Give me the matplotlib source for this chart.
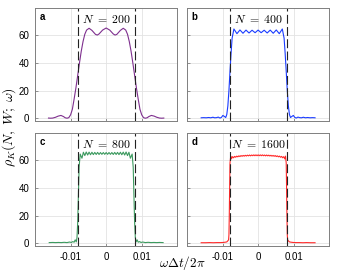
import numpy as np
import matplotlib.pyplot as plt

plt.rcParams['font.family'] = ['Liberation Sans', 'DejaVu Sans']
plt.rcParams['mathtext.fontset'] = 'cm'

# half bandwidth (omega*dt/2pi units)
W = 0.008

# N = 200
om_a = [-0.0162, -0.0156, -0.0150, -0.0142, -0.0135, -0.0127, -0.0120, -0.0115, -0.0110,
        -0.0105, -0.0100, -0.0095, -0.0090, -0.0085, -0.0080, -0.0075, -0.0070, -0.0065,
        -0.0060, -0.0055, -0.0048, -0.0040, -0.0030, -0.0025, -0.0020, -0.0010, 0.0,
        0.0010, 0.0020, 0.0025, 0.0030, 0.0040, 0.0048, 0.0055, 0.0060, 0.0065, 0.0070,
        0.0075, 0.0080, 0.0085, 0.0090, 0.0095, 0.0100, 0.0105, 0.0110, 0.0115, 0.0120,
        0.0127, 0.0135, 0.0142, 0.0150, 0.0156, 0.0162]
rho_a = [0.2, 0.1, 0.2, 0.8, 1.6, 2.1, 1.3, 0.4, 0.1,
         0.5, 2.5, 6.5, 14.0, 22.0, 31.0, 40.0, 48.5, 55.5,
         60.8, 63.8, 65.1, 63.6, 60.7, 60.2, 61.0, 63.8, 65.3,
         63.8, 61.0, 60.2, 60.7, 63.6, 65.1, 63.8, 60.8, 55.5, 48.5,
         40.0, 31.0, 22.0, 14.0, 6.5, 2.5, 0.5, 0.1, 0.4, 1.3,
         2.1, 1.6, 0.8, 0.2, 0.1, 0.2]

# N = 400
om_b = [-0.0160, -0.0153, -0.0146, -0.0139, -0.0133, -0.0127, -0.0122, -0.0117, -0.0112,
        -0.0107, -0.0103, -0.0099, -0.0095, -0.0091, -0.0088, -0.0085, -0.0082, -0.0079,
        -0.0076, -0.0073, -0.0068, -0.00595, -0.0051, -0.00425, -0.0034, -0.00255, -0.0017,
        -0.00085, 0.0, 0.00085, 0.0017, 0.00255, 0.0034, 0.00425, 0.0051, 0.00595, 0.0068,
        0.0073, 0.0076, 0.0079, 0.0082, 0.0085, 0.0088, 0.0091, 0.0095, 0.0099, 0.0103,
        0.0107, 0.0112, 0.0117, 0.0122, 0.0127, 0.0133, 0.0139, 0.0146, 0.0153, 0.0160]
rho_b = [0.4, 0.5, 0.4, 0.6, 0.4, 0.8, 0.4, 0.5, 0.9,
         0.2, 0.7, 2.1, 1.4, 0.6, 2.8, 9.0, 20.0, 34.0,
         47.0, 58.0, 64.6, 61.2, 63.9, 61.5, 63.8, 61.7, 63.7,
         61.9, 63.8, 61.9, 63.7, 61.7, 63.8, 61.5, 63.9, 61.2, 64.6,
         58.0, 47.0, 34.0, 20.0, 9.0, 2.8, 0.6, 1.4, 2.1, 0.7,
         0.2, 0.9, 0.5, 0.4, 0.8, 0.4, 0.6, 0.4, 0.5, 0.4]

# N = 800
om_c = [-0.0160, -0.0150, -0.0142, -0.0134, -0.0126, -0.0118, -0.0110, -0.0103, -0.0098,
        -0.0094, -0.0090, -0.0087, -0.0084, -0.0082, -0.0080, -0.0078, -0.0076, -0.0073,
        -0.0068, -0.0064, -0.0060, -0.0056, -0.0052, -0.0048, -0.0044, -0.0040, -0.0036,
        -0.0032, -0.0028, -0.0024, -0.0020, -0.0016, -0.0012, -0.0008, -0.0004, 0.0,
        0.0004, 0.0008, 0.0012, 0.0016, 0.0020, 0.0024, 0.0028, 0.0032, 0.0036,
        0.0040, 0.0044, 0.0048, 0.0052, 0.0056, 0.0060, 0.0064, 0.0068, 0.0073,
        0.0076, 0.0078, 0.0080, 0.0082, 0.0084, 0.0087, 0.0090, 0.0094, 0.0098,
        0.0103, 0.0110, 0.0118, 0.0126, 0.0134, 0.0142, 0.0150, 0.0160]
rho_c = [0.5, 0.6, 0.5, 0.6, 0.5, 0.7, 0.5, 0.9, 0.6,
         1.2, 0.8, 2.5, 1.0, 4.0, 15.0, 35.0, 55.0, 64.5,
         61.5, 65.8, 63.4, 66.0, 63.8, 65.9, 64.0, 65.8, 64.1,
         65.7, 64.2, 65.7, 64.2, 65.6, 64.3, 65.6, 64.3, 65.6,
         64.3, 65.6, 64.3, 65.6, 64.2, 65.7, 64.2, 65.7, 64.1,
         65.8, 64.0, 65.9, 63.8, 66.0, 63.4, 65.8, 61.5, 64.5,
         55.0, 35.0, 15.0, 4.0, 1.0, 2.5, 0.8, 1.2, 0.6,
         0.9, 0.5, 0.7, 0.5, 0.6, 0.5, 0.6, 0.5]

# N = 1600
om_d = [-0.0160, -0.0148, -0.0136, -0.0126, -0.0116, -0.0106, -0.0098, -0.0092, -0.0088,
        -0.0085, -0.0083, -0.0082, -0.0081, -0.0080, -0.0079, -0.0077, -0.0075, -0.0072,
        -0.0069, -0.0066, -0.0063, -0.0060, -0.0057, -0.0054, -0.0051, -0.0048, -0.0045,
        -0.0042, -0.0039, -0.0036, -0.0033, -0.0030, -0.0027, -0.0024, -0.0021, -0.0018,
        -0.0015, -0.0012, -0.0009, -0.0006, -0.0003, 0.0,
        0.0003, 0.0006, 0.0009, 0.0012, 0.0015, 0.0018, 0.0021, 0.0024, 0.0027,
        0.0030, 0.0033, 0.0036, 0.0039, 0.0042, 0.0045, 0.0048, 0.0051, 0.0054,
        0.0057, 0.0060, 0.0063, 0.0066, 0.0069, 0.0072, 0.0075, 0.0077, 0.0079,
        0.0080, 0.0081, 0.0082, 0.0083, 0.0085, 0.0088, 0.0092, 0.0098, 0.0106,
        0.0116, 0.0126, 0.0136, 0.0148, 0.0160]
rho_d = [0.4, 0.4, 0.5, 0.4, 0.5, 0.5, 0.6, 0.8, 1.0,
         1.8, 2.5, 6.0, 20.0, 40.0, 58.0, 63.0, 61.0, 62.6,
         61.8, 62.8, 62.2, 63.0, 62.5, 63.2, 62.7, 63.4, 62.9,
         63.5, 63.0, 63.6, 63.1, 63.7, 63.2, 63.8, 63.2, 63.8,
         63.3, 63.9, 63.3, 63.9, 63.3, 63.9,
         63.3, 63.9, 63.3, 63.9, 63.3, 63.8, 63.2, 63.8, 63.2,
         63.7, 63.1, 63.6, 63.0, 63.5, 62.9, 63.4, 62.7, 63.2,
         62.5, 63.0, 62.2, 62.8, 61.8, 62.6, 61.0, 63.0, 58.0,
         40.0, 20.0, 6.0, 2.5, 1.8, 1.0, 0.8, 0.6, 0.5,
         0.5, 0.4, 0.5, 0.4, 0.4]

panels = [
    ('a', 200, om_a, rho_a, '#7E2F8E'),
    ('b', 400, om_b, rho_b, '#1a3cff'),
    ('c', 800, om_c, rho_c, '#3c9a5f'),
    ('d', 1600, om_d, rho_d, '#ff2a2a'),
]

fig = plt.figure(figsize=(3.43, 2.74), dpi=100)
lefts = [0.102, 0.545]
bottoms = [0.558, 0.102]
w, h = 0.415, 0.414

for i, (letter, N, om, rho, col) in enumerate(panels):
    r, c = divmod(i, 2)
    ax = fig.add_axes([lefts[c], bottoms[r], w, h])
    ax.grid(True, color='#e3e3e3', lw=0.6)
    ax.set_axisbelow(True)
    ax.plot(om, rho, color=col, lw=0.8)
    for x0 in (-W, W):
        ax.axvline(x0, color='#222222', lw=0.8, dashes=(8, 3))
    ax.set_xlim(-0.02, 0.02)
    ax.set_ylim(-2, 80)
    ax.set_xticks([-0.01, 0, 0.01])
    ax.set_yticks([0, 20, 40, 60])
    ax.tick_params(direction='in', length=2, width=0.6, color='#7f7f7f',
                   labelsize=7, pad=4)
    if c == 1:
        ax.set_yticklabels([])
    if r == 0:
        ax.set_xticklabels([])
    else:
        ax.set_xticklabels(['-0.01', '0', '0.01'])
    for s in ax.spines.values():
        s.set_color('#7f7f7f')
        s.set_linewidth(0.7)
    ax.text(0.03, 0.965, letter, transform=ax.transAxes, fontsize=7,
            fontweight='bold', ha='left', va='top')
    ax.text(0.5, 0.895, r'$N\ =\ %d$' % N, transform=ax.transAxes,
            fontsize=8.5, ha='center', va='center')

fig.text(0.027, 0.535, r'$\rho_K(N,\;W;\;\omega)$', rotation=90, fontsize=10,
         ha='center', va='center')
fig.text(0.531, 0.04, r'$\omega\Delta t/2\pi$', fontsize=9.5,
         ha='center', va='center')

fig.savefig('out.png', dpi=100)
